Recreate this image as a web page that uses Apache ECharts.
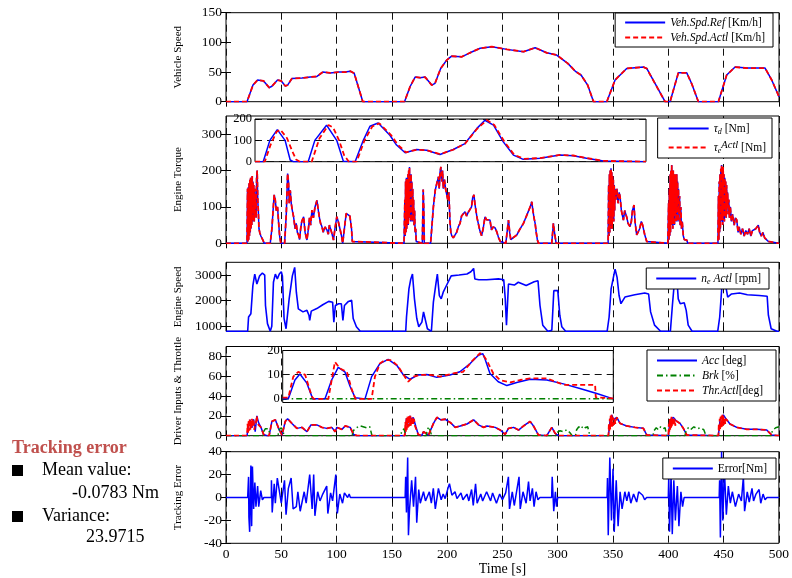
<!DOCTYPE html>
<html><head><meta charset="utf-8">
<script src="https://cdn.jsdelivr.net/npm/echarts@6/dist/echarts.min.js"></script>
<style>html,body{margin:0;padding:0;background:#fff}#c{width:792px;height:578px}</style>
</head><body><div id="c"></div>
<script>
// ---------- DATA ----------
const xTicks = [0,50,100,150,200,250,300,350,400,450,500];
const speedTicks = [0,50,100,150];
const torqueTicks = [0,100,200,300];
const rpmTicks = [1000,2000,3000];
const driverTicks = [0,20,40,60,80];
const errorTicks = [-40,-20,0,20,40];
const insetATicks = [0,100,200];
const insetBTicks = [0,10,20];

const speedRef = [[0,0],[19,0],[24.4,28],[28.6,36.6],[34,35],[39.1,23.6],[41.5,26],[46.6,36.6],[50,35],[53.6,26.4],[55.7,28],[59.6,39],[68.7,40],[76.2,41.5],[82.2,42.6],[87.6,50],[94.2,48.5],[101.8,50],[107.8,50],[112.3,51.5],[115.9,48],[123.7,0],[161.4,0],[166.5,25.6],[171,41.5],[175.5,40.5],[180,41.5],[186,28],[189,31],[194.1,56],[199.5,70],[204,76.7],[213,75.6],[220.6,82.4],[229.8,90],[240.4,92.7],[254,88.2],[269,84.3],[279.5,91],[290,82.4],[299,78.6],[309,64.6],[316.3,50.5],[321,45],[327,28],[332.3,0],[344.3,0],[351.8,36.6],[362.3,56],[377.4,58.4],[380.4,56],[397,0],[401.5,0],[409,48.6],[416.6,48.6],[421,30.6],[427.1,0],[445.2,0],[452.7,45],[460.3,58.4],[470.8,56.7],[487.4,56.7],[493.4,36.6],[500,8.4]];
const speedActl = speedRef;

const torqueDes = [[0,0],[19,0],[19.5,150],[19.8,5],[20.2,155],[20.5,10],[20.9,165],[21.2,20],[21.6,175],[21.9,30],[22.3,180],[22.6,40],[23,178],[23.3,50],[23.7,185],[24,60],[24.4,170],[24.7,80],[25.1,160],[25.5,60],[25.9,150],[26.3,100],[26.7,120],[27.2,70],[27.7,180],[28.2,200],[28.7,120],[29.2,90],[29.8,40],[30.5,30],[31.5,20],[32.5,25],[33.5,8],[34.5,0],
[40,0],[41.5,40],[43,110],[43.6,133],[44.5,120],[45.5,90],[46.6,100],[47.5,60],[48.5,20],[49.6,0],[53,0],[54.5,80],[55.7,192],[56.5,170],[57.2,110],[58.1,146],[59,110],[60,90],[61.1,73],[62.5,40],[63.5,55],[64.5,30],[65.6,23],[66.5,10],[67.5,40],[68.5,60],[70.2,73],[71.5,30],[73.2,9],[74.5,40],[75.5,70],[76.5,50],[77.7,91],[79,70],[80.5,100],[82.2,118],[83.5,90],[84.5,70],[85.5,55],[86.7,46],[88,30],[89.5,45],[91.2,37],[92.5,25],[93.5,50],[94.2,55],[95.5,30],[97.2,9],[98.5,40],[100.2,73],[101.5,60],[103.3,64],[104.5,20],[105.5,0],[107,0],[107.8,60],[108.7,82],[110.5,80],[112,75],[113.5,40],[114.2,5],[115,0],
[161,0],[161.7,120],[162,20],[162.4,170],[162.7,30],[163.1,180],[163.4,40],[163.8,175],[164.1,60],[164.5,190],[164.8,50],[165.2,200],[165.5,70],[165.9,210],[166.2,80],[166.6,180],[166.9,60],[167.3,190],[167.6,90],[168,170],[168.4,60],[168.8,150],[169.2,80],[169.6,120],[170,50],[170.5,90],[171,30],[171.5,40],[172,5],[172.5,0],[177.5,0],[178.3,148],[178.8,100],[179.3,0],[185,0],
[186,40],[187.5,100],[189.2,146],[190,150],[191,170],[192.2,183],[192.8,150],[193.5,195],[194.3,210],[195,170],[195.8,200],[196.5,150],[197.5,175],[198.5,150],[199.6,146],[200.5,120],[201.5,140],[202.5,60],[203.3,30],[204.1,21],[205.5,15],[207.1,16],[208.5,30],[210,45],[211.6,55],[213,75],[214.5,80],[216.1,87],[217.5,75],[219,85],[220.6,82],[222,100],[223,125],[224.2,133],[225,110],[226,90],[227,70],[228.1,55],[229.5,35],[231.1,21],[232.5,40],[234.2,73],[235.5,65],[237,60],[238.7,64],[240,37],[241.5,45],[243.4,42],[245,30],[246.5,15],[248,5],[249.5,0],[253,0],[254.5,40],[255.4,64],[256.5,30],[257.5,10],[259.5,15],[261,20],[263,23],[265,35],[267,45],[269,55],[271,70],[273,85],[275,100],[276.5,114],[277.5,90],[278.5,70],[279.5,55],[280.5,30],[281.5,10],[282.5,0],[294.5,0],[295.5,35],[296,55],[297,30],[298.5,0],
[345.5,0],[346,160],[346.3,20],[346.7,190],[347,30],[347.4,200],[347.7,40],[348.1,206],[348.4,50],[348.8,195],[349.1,40],[349.5,185],[349.8,70],[350.2,175],[350.6,60],[351,160],[351.4,90],[351.8,150],[352.5,120],[353.5,150],[354.5,110],[355.5,140],[356.3,128],[357.5,90],[359.3,64],[360.5,90],[361.5,80],[362.5,70],[363.5,55],[365.3,46],[366.5,60],[367.5,90],[368.9,105],[369.8,60],[371.3,23],[372.5,30],[374,40],[375.5,60],[376.7,50],[378.5,25],[380.4,5],[381,0],
[399.5,0],[400.2,110],[400.5,10],[400.9,150],[401.2,20],[401.6,190],[401.9,30],[402.3,200],[402.6,50],[403,215],[403.3,60],[403.7,195],[404,40],[404.4,200],[404.7,70],[405.1,185],[405.5,50],[405.9,190],[406.3,80],[406.7,175],[407.1,60],[407.5,190],[407.9,90],[408.3,170],[408.7,60],[409.1,150],[409.6,80],[410.1,130],[410.6,50],[411.2,100],[411.8,40],[412.5,60],[413.5,20],[414.5,10],[416.6,9],[417.5,0],
[444.8,0],[445.3,130],[445.6,10],[446,170],[446.3,30],[446.7,190],[447,40],[447.4,205],[447.7,60],[448.1,215],[448.4,70],[448.8,200],[449.1,50],[449.5,210],[449.8,80],[450.2,190],[450.6,60],[451,180],[451.4,90],[451.8,170],[452.2,70],[452.6,160],[453,100],[453.5,140],[454,80],[454.6,120],[455.2,70],[456,100],[457,60],[458,80],[459.5,50],[460.5,70],[461.8,64],[463,30],[464,45],[465.5,25],[467,40],[468.5,20],[470,35],[471.5,25],[473,40],[474.5,20],[476,35],[477.5,30],[479,40],[480.2,45],[481.3,50],[482.5,30],[484,20],[485.5,30],[487,15],[488.5,20],[490.4,5],[492,0],[500,0]];
const torqueActl = torqueDes;

const insetTorqueDes = [[0,0],[2.1,0],[3.8,100],[5.7,150],[7.7,100],[9,8],[9.8,0],[13.6,0],[15.3,100],[18.3,171],[20.9,100],[22.6,2],[25.6,0],[27.7,100],[29.4,166],[31.5,181],[34.5,124],[36.2,78],[38.4,42],[41.3,57],[43.9,54],[47.3,34],[50.7,57],[53.7,85],[56.7,155],[58.8,194],[59.3,194],[61,171],[63.5,93],[66.1,31],[68.6,11],[72.9,16],[78,31],[81.4,28],[84.8,16],[89.1,3],[100,0]];
const insetTorqueActl = [[0,0],[2.5,0],[4,80],[5.5,140],[6.5,150],[8.2,110],[9.5,50],[10.5,10],[11.5,0],[14.5,0],[16.5,110],[18.8,172],[20,160],[21.5,100],[22.8,30],[24,0],[26,0],[28,100],[30,165],[31.8,180],[34.8,125],[36.5,80],[38.6,44],[41.3,56],[44,54],[47.3,35],[50.7,56],[53.7,84],[56.7,152],[59.3,195],[61.2,172],[63.8,93],[66.3,32],[68.8,13],[72.9,17],[78,32],[81.4,29],[84.8,17],[89.1,4],[100,0]];

const engineSpeed = [[0,800],[19.6,800],[20.4,1360],[22.5,1490],[24.3,2590],[26,3040],[27.9,2650],[30.4,2970],[32.9,3080],[35,3000],[35.7,1810],[37.5,1100],[40,800],[41.4,1000],[42.9,2720],[44.6,3040],[46.4,2850],[48.2,3040],[50,3130],[51,2970],[52.5,1300],[54.3,900],[57.1,2070],[60,2970],[62.1,3300],[63.6,2330],[65.4,1680],[69.6,1560],[73.2,1620],[75,1430],[75.7,1230],[77.1,1590],[82.1,1690],[87.5,1840],[92.9,1970],[96.4,1940],[97.5,1160],[98.9,1810],[101.8,1880],[104.3,1880],[105.7,1230],[107.1,1810],[110.7,1970],[113.6,2010],[115,1300],[117.9,980],[121.4,800],[162.5,800],[163.2,1360],[165.4,2460],[167.1,2850],[168.6,3040],[170.4,2070],[172.5,1300],[174.3,980],[177.1,1160],[178.6,1560],[180.4,1560],[182.1,900],[185.7,800],[187.5,1940],[190,2720],[191.1,3040],[192.9,2200],[194.6,2070],[196.4,2330],[200,2650],[203.6,2970],[210.7,3000],[217.9,3040],[221.4,3130],[223.9,3260],[225,2850],[228.6,2820],[235.7,2820],[246.4,2850],[251.1,2820],[252.5,2070],[253.6,1040],[255.4,2650],[260.7,2610],[264.3,2720],[271.4,2590],[278.6,2740],[282.1,2780],[283.9,1810],[286.4,1040],[291,800],[294.6,840],[296.4,2390],[300,2390],[301.8,1430],[303.6,980],[307.1,800],[344.6,800],[346.4,1360],[348.2,2460],[350,2850],[351.8,3230],[353.6,2910],[355.4,2200],[357.1,1880],[360.7,2140],[369.6,2230],[378.6,2300],[382.1,2260],[383.9,1560],[387.5,1040],[392.9,800],[401.8,800],[403.6,1810],[405.4,2720],[407.1,3230],[408.9,2070],[410.7,1880],[414.3,1920],[416.1,1620],[417.9,1040],[421.4,800],[444.6,800],[446.4,1360],[448.2,2460],[450,3230],[451.8,2590],[453.6,2140],[457.1,2260],[464.3,2300],[471.4,2230],[482.1,2200],[489.3,2170],[490.4,1430],[492.9,900],[498.2,800],[500,800]];

const accPedal = [[0,0],[19,0],[20.4,10.9],[21.9,16],[23.4,8],[24.9,16.6],[26.4,4],[27.9,20],[29.5,13],[31.6,8.4],[34,1.3],[37,0],[39,0],[41.5,14.4],[44.6,16],[47.6,7.4],[50.6,0.5],[53.6,14.4],[55.7,17],[59.6,12.4],[64.1,7.4],[68.7,8.4],[73.2,4],[76.8,10.9],[82.2,10.9],[86.7,8.4],[91.2,7.4],[95.7,8.4],[98.7,4],[100.2,8.4],[104.8,6.4],[107.8,9.8],[112.3,8.4],[115.3,1.3],[118.4,0],[161.7,0],[163.2,17.5],[164.7,12.4],[166.2,20],[167.8,16],[169.3,18.5],[171.7,9.1],[173.8,1.3],[176.8,0],[178.6,4],[180.1,5.7],[183.1,0.7],[187.6,12.4],[190.7,18.5],[194.3,16],[198.2,16.6],[202.8,13.3],[207.3,8.4],[211.8,9.8],[217.9,11.8],[223.9,16],[228.4,10.9],[232.9,8.4],[235.9,9.8],[243.4,8.4],[248,5.7],[252.4,1.3],[255.4,7.4],[260,8.4],[264.5,5.7],[269,9.8],[275,14.4],[278,9.8],[282.5,0.7],[290,0],[294.6,8.4],[297.6,2.4],[300.6,0],[345.8,0],[347.3,16],[348.8,21],[350.3,16],[353.3,18.5],[356.3,12.4],[362.3,9.8],[369.8,8.4],[377.4,7.4],[380.4,0.7],[382,0],[400,0],[401.5,16],[404.5,18.5],[407.5,14.4],[410.5,12.4],[413.5,7.4],[416.6,0.7],[418,0],[445.2,0],[446.7,16],[449.7,21],[452.7,16],[455.7,11.8],[461.8,8.4],[470.8,6.4],[479.8,6.4],[488.9,5.7],[493.4,0.7],[495,0],[500,0]];
const brake = [[0,0],[33,0],[34,4],[35.5,7],[37,5],[38.5,7],[40,0],[47,0],[48,6],[50,8],[51.5,5],[52.5,0],[114,0],[115,5],[118,8],[121,10],[124,9],[127,8],[130,9],[132,0],[158,0],[159,5],[161,7],[162.5,0],[181,0],[182,6],[183.5,9],[185,7],[186,0],[298,0],[299,3],[302,5],[305,4],[308,6],[311,3],[313,0],[316,0],[317,6],[319,9],[321,7],[323,10],[325,8],[327,9],[329,0],[386,0],[387,5],[389,8],[391,6],[393,9],[395,7],[397,8],[398.5,0],[415,0],[416,5],[418,8],[420,6],[423,9],[426,7],[429,8],[432,6],[434,0],[493,0],[494,5],[497,8],[500,9]];
const throttle = [[0,0],[19,0],[19.5,12],[20,3],[20.5,16],[21,5],[21.5,17],[22,6],[22.5,15],[23,8],[23.5,17],[24,10],[24.9,16.6],[25.5,6],[26.4,4],[27.2,14],[27.9,20],[28.5,12],[29.5,14],[31.6,8.4],[34,1.3],[37,0],[39,0],[41.5,14.4],[44.6,16],[47.6,7.4],[50.6,0.5],[53.6,14.4],[55.7,17],[59.6,12.4],[64.1,7.4],[68.7,8.4],[73.2,4],[76.8,10.9],[82.2,10.9],[86.7,8.4],[91.2,7.4],[95.7,8.4],[98.7,4],[100.2,8.4],[104.8,6.4],[107.8,9.8],[112.3,8.4],[115.3,1.3],[118.4,0],[161.7,0],[162.2,14],[162.6,4],[163.1,18],[163.5,6],[164,19],[164.4,8],[164.9,20],[165.3,9],[165.8,21],[166.2,10],[166.7,20],[167.1,9],[167.6,18],[168.1,11],[168.7,19],[169.3,12],[170,17],[170.8,10],[171.7,9.1],[173.8,1.3],[176.8,0],[178.6,4],[180.1,5.7],[183.1,0.7],[187.6,12.4],[190.7,18.5],[194.3,16],[198.2,16.6],[202.8,13.3],[207.3,8.4],[211.8,9.8],[217.9,11.8],[223.9,16],[228.4,10.9],[232.9,8.4],[235.9,9.8],[243.4,8.4],[248,5.7],[252.4,1.3],[255.4,7.4],[260,8.4],[264.5,5.7],[269,9.8],[275,14.4],[278,9.8],[282.5,0.7],[290,0],[294.6,8.4],[297.6,2.4],[300.6,0],[345.8,0],[346.2,12],[346.6,4],[347,17],[347.4,6],[347.8,20],[348.2,8],[348.6,21],[349,9],[349.4,19],[349.8,10],[350.3,18],[350.8,11],[351.4,17],[352,12],[353.3,18.5],[356.3,12.4],[362.3,9.8],[369.8,8.4],[377.4,7.4],[380.4,0.7],[382,0],[400,0],[400.4,12],[400.8,4],[401.2,17],[401.6,6],[402,18],[402.4,8],[402.8,19],[403.2,9],[403.6,18],[404,10],[404.5,18.5],[405,11],[405.6,17],[406.2,10],[407,15],[407.5,14.4],[410.5,12.4],[413.5,7.4],[416.6,0.7],[418,0],[445.2,0],[445.6,12],[446,4],[446.4,17],[446.8,6],[447.2,19],[447.6,8],[448,20],[448.4,9],[448.8,21],[449.2,10],[449.7,21],[450.2,11],[450.8,18],[451.4,12],[452,17],[452.7,16],[455.7,11.8],[461.8,8.4],[470.8,6.4],[479.8,6.4],[488.9,5.7],[493.4,0.7],[495,0],[500,0]];

const insetAcc = [[0,0],[1.7,0],[3.7,7.8],[5.2,10.3],[7.3,6.5],[9.1,0],[12.8,0],[14.8,7.8],[16.8,13],[18.8,11.2],[20.4,5.1],[21.9,0.5],[24.9,0],[26.9,9.2],[29.4,14.6],[31.9,16.3],[34.5,13.9],[36.5,9.9],[38.5,8.1],[41,9.9],[43.6,10.1],[46.6,8.9],[50.6,9.9],[53.6,11.2],[56.7,14.6],[59.2,18],[60.5,18.7],[61.2,16.5],[62.7,10.5],[65.2,7.1],[67.8,5.5],[70.8,6.8],[74.8,8.1],[79.9,7.8],[84.9,6.2],[89.9,4.3],[95,2.2],[100,0]];
const insetBrk = [[0,0],[100,0]];
const insetThr = [[0,0.5],[1.7,0.5],[3.2,9.2],[4.7,11.2],[6.8,9.9],[8.8,1],[9.4,0],[13.8,0],[14.3,3.8],[15.8,15.3],[16.4,16],[17.3,12.6],[19.4,11.2],[20.9,3.8],[22,0],[26.9,0],[27.9,9.2],[29.4,14.6],[30.9,16],[32.9,16],[34.9,13.5],[36.9,9.2],[38,7.1],[39.5,9.2],[41.5,9.9],[44.6,9.9],[47.6,9.2],[51.6,10.5],[54.6,11.2],[57.2,15.5],[59.7,18.9],[60.7,18],[61.7,16],[63.7,10.5],[65.7,7.8],[68.8,6.8],[71.8,7.8],[74.8,8.5],[79.9,8.5],[84.9,5.8],[94.5,5.8],[94.7,0.6],[100,0.2]];
const insetBRefLine = 10;

const trackError = [[0,0],[19.6,0],[20.4,18],[20.7,-17],[21.4,-30],[22.5,28],[23.2,-25],[23.9,27],[25,-10],[26.1,13],[27.1,-8],[28.6,10],[29.6,-8],[31.4,6],[32.9,-2],[34.3,0],[41,0],[41.1,15],[41.8,-13],[43.6,12],[44.6,-5],[46.4,17],[48.2,18],[50,-5],[52.9,15],[54.3,-15],[56.4,8],[58.9,17],[60.7,-10],[63.6,-8],[65,5],[67.1,-12],[68.9,-13],[70.7,5],[72.5,-5],[75.7,20],[77.9,-10],[79.3,20],[80.4,-16],[82.9,5],[85,-3],[87.5,3],[91.1,10],[92.1,-14],[94.6,4],[96.4,-3],[99.3,20],[100.7,-14],[102.9,3],[105.4,-5],[107.1,4],[110,0],[111.4,3],[112.5,0],[162,0],
[162.5,18],[163.2,-13],[164.3,35],[165,-33],[166,-10],[167.9,15],[169.6,-8],[171.4,18],[172.5,-22],[174.3,7],[175.7,-5],[178.6,5],[180.4,-3],[183.9,5],[185.7,-5],[187.5,8],[189.3,-10],[192.1,8],[194.6,-2],[196.4,3],[198.2,-1],[200.7,8],[202.1,12],[204.3,2],[207.1,5],[208.9,-1],[212.5,4],[214.3,-2],[217.9,3],[219.6,-3],[222.1,7],[223.6,-7],[225.7,12],[227.1,-5],[230.4,3],[232.1,-3],[235.7,5],[239.3,-3],[241.1,4],[244.6,-5],[247.5,3],[250,-2],[252.9,4],[255.4,18],[256.4,-10],[258.9,5],[260.7,-7],[265,18],[266.1,-10],[268.6,5],[271.4,-5],[273.6,14],[275,-3],[277.1,8],[278.6,-8],[280.4,5],[282.1,-2],[283.9,0],[294.5,0],[295,18],[296.4,-12],[297.9,5],[298.9,-8],[300,0],[344.6,0],
[345,17],[345.7,-33],[347.1,35],[348.6,-20],[350,25],[351.1,-30],[352.9,15],[354.6,-25],[356.4,5],[358.2,-10],[360.7,5],[362.5,-3],[364.3,5],[366.1,-5],[368.6,3],[371.4,-4],[373.2,5],[376.8,2],[378.6,-2],[380.4,0],[400,0],[400.4,18],[401.1,-30],[402.5,20],[403.6,-32],[405,15],[406.4,-20],[408.2,10],[409.6,-25],[411.4,5],[412.9,-8],[414.3,0],[446,0],[446.4,15],[447.1,-35],[448.2,40],[449.3,-20],[450.7,25],[452.5,-15],[454.3,10],[456.1,-5],[457.9,5],[460.7,-8],[463.6,3],[466.1,-3],[467.9,18],[469,-12],[471.4,5],[473.2,-4],[475.7,8],[477.1,-3],[479.3,3],[482.1,7],[483.6,-5],[485.7,3],[487.5,-2],[489.3,0],[500,0]];

const panelNames = ['Vehicle Speed','Engine Torque','Engine Speed','Driver Inputs & Throttle','Tracking Error'];
const statsTitle = 'Tracking error';
const statsLines = ['Mean value:','-0.0783 Nm','Variance:','23.9715'];

// ---------- LAYOUT ----------
const FONT = '"Liberation Serif", "Times New Roman", serif';
const BLUE = '#0000ff', RED = '#ff0000', GREEN = '#008000';
const L = 226, R = 13;
const mainGrids = [
  {top:12.7, height:89},
  {top:116, height:127.3},
  {top:262.3, height:69},
  {top:346.5, height:89.2},
  {top:451.7, height:91.6}
];
const yRanges = [
  {min:0, max:150, ticks:speedTicks},
  {min:0, max:350, ticks:torqueTicks},
  {min:800, max:3500, ticks:rpmTicks},
  {min:0, max:90, ticks:driverTicks},
  {min:-40, max:40, ticks:errorTicks}
];
const plain = v => String(v);

const grid = mainGrids.map(g => ({left:L, right:R, top:g.top, height:g.height, show:true, borderColor:'#000', borderWidth:1, backgroundColor:'#fff', z:0}));
grid.push({left:255, width:391, top:119, height:42.7, show:true, borderColor:'#000', borderWidth:1, backgroundColor:'#fff', z:3});
grid.push({left:282.7, width:330.6, top:350.5, height:52, show:true, borderColor:'#000', borderWidth:1, backgroundColor:'#fff', z:3});

const tickStyle = {show:true, inside:true, length:5, lineStyle:{color:'#000', width:1}};
const xAxis = [], yAxis = [];
for (let i = 0; i < 5; i++) {
  const last = i === 4;
  xAxis.push({type:'value', gridIndex:i, position:'bottom', min:0, max:500, interval:50,
    axisLine:{show:false}, axisTick:tickStyle,
    axisLabel:{show:last, formatter:plain, color:'#000', fontFamily:FONT, fontSize:13.5, margin:4},
    splitLine:{show:true, lineStyle:{color:'#111', type:[7,5], width:1}},
    name: last ? 'Time [s]' : '', nameLocation:'middle', nameGap:19,
    nameTextStyle:{color:'#000', fontFamily:FONT, fontSize:14}});
}
for (let i = 0; i < 5; i++) {
  xAxis.push({type:'value', gridIndex:i, position:'top', min:0, max:500, interval:50,
    axisLine:{show:false}, axisTick:tickStyle, axisLabel:{show:false}, splitLine:{show:false}});
}
for (let i = 0; i < 5; i++) {
  const r = yRanges[i];
  yAxis.push({type:'value', gridIndex:i, position:'left', min:r.min, max:r.max,
    axisLine:{show:false}, splitLine:{show:false},
    axisTick:Object.assign({}, tickStyle, {customValues:r.ticks}),
    axisLabel:{show:true, customValues:r.ticks, formatter:plain, color:'#000', fontFamily:FONT, fontSize:13.5, margin:4},
    name:panelNames[i], nameLocation:'middle', nameRotate:90, nameGap:42,
    nameTextStyle:{color:'#000', fontFamily:FONT, fontSize:11}});
}
for (let i = 0; i < 5; i++) {
  const r = yRanges[i];
  yAxis.push({type:'value', gridIndex:i, position:'right', min:r.min, max:r.max,
    axisLine:{show:false}, splitLine:{show:false},
    axisTick:Object.assign({}, tickStyle, {customValues:r.ticks}),
    axisLabel:{show:false}});
}
// insets
xAxis.push({type:'value', gridIndex:5, min:0, max:100, show:false, z:4});
xAxis.push({type:'value', gridIndex:6, min:0, max:100, show:false, z:4});
yAxis.push({type:'value', gridIndex:5, position:'left', min:0, max:200, interval:100, z:4,
  axisLine:{show:false}, axisTick:Object.assign({}, tickStyle, {length:4}),
  axisLabel:{show:true, formatter:plain, color:'#000', fontFamily:FONT, fontSize:12.5, margin:3},
  splitLine:{show:true, lineStyle:{color:'#111', type:[7,5], width:1}}});
yAxis.push({type:'value', gridIndex:6, position:'left', min:-1.5, max:20, z:4,
  axisLine:{show:false}, axisTick:Object.assign({}, tickStyle, {length:4, customValues:insetBTicks}),
  axisLabel:{show:true, customValues:insetBTicks, formatter:plain, color:'#000', fontFamily:FONT, fontSize:12.5, margin:3},
  splitLine:{show:false}});

function ln(name, data, xi, yi, color, width, type, z) {
  return {type:'line', name, data, xAxisIndex:xi, yAxisIndex:yi, symbol:'none', showSymbol:false,
    lineStyle:{color, width, type}, itemStyle:{color}, z:z||2, animation:false, silent:true};
}
const DASH = [5,3], DASHDOT = [6,3,1.5,3];
const series = [
  ln('Veh.Spd.Ref', speedRef, 0, 0, BLUE, 1.5, 'solid'),
  ln('Veh.Spd.Actl', speedActl, 0, 0, RED, 1.8, DASH),
  ln('τd', torqueDes, 1, 1, BLUE, 1.5, 'solid'),
  ln('τeActl', torqueActl, 1, 1, RED, 1.8, DASH),
  ln('insA_d', insetTorqueDes, 10, 10, BLUE, 1.5, 'solid', 5),
  ln('insA_a', insetTorqueActl, 10, 10, RED, 1.8, DASH, 5),
  ln('neActl', engineSpeed, 2, 2, BLUE, 1.6, 'solid'),
  ln('Acc', accPedal, 3, 3, BLUE, 1.5, 'solid'),
  ln('Brk', brake, 3, 3, GREEN, 1.5, DASHDOT),
  ln('Thr.Actl', throttle, 3, 3, RED, 1.8, DASH),
  Object.assign(ln('insB_brk', insetBrk, 11, 11, GREEN, 1.5, DASHDOT, 5), {
    markLine:{silent:true, symbol:'none', label:{show:false}, lineStyle:{color:'#111', type:[7,5], width:1}, data:[{yAxis:insetBRefLine}]}}),
  ln('insB_acc', insetAcc, 11, 11, BLUE, 1.5, 'solid', 5),
  ln('insB_thr', insetThr, 11, 11, RED, 1.8, DASH, 5),
  ln('Error', trackError, 4, 4, BLUE, 1.5, 'solid')
];

const legendText = {
  'Veh.Spd.Ref':'{i|Veh.Spd.Ref} [Km/h]',
  'Veh.Spd.Actl':'{i|Veh.Spd.Actl} [Km/h]',
  'τd':'{i|τ}{sub|d} [Nm]',
  'τeActl':'{i|τ}{sub|e}{sup|Actl} [Nm]',
  'neActl':'{i|n}{sub|e} {i|Actl} [rpm]',
  'Acc':'{i|Acc} [deg]', 'Brk':'{i|Brk} [%]', 'Thr.Actl':'{i|Thr.Actl}[deg]',
  'Error':'Error[Nm]'
};
const rich = {
  i:{fontStyle:'italic', fontFamily:FONT, fontSize:11.5, color:'#000', lineHeight:15},
  sub:{fontStyle:'italic', fontFamily:FONT, fontSize:8, color:'#000', lineHeight:8, verticalAlign:'bottom'},
  sup:{fontStyle:'italic', fontFamily:FONT, fontSize:10.5, color:'#000', lineHeight:10, verticalAlign:'top'}
};
function lg(names, right, top, padding, gap) {
  return {show:true, data:names, right, top, orient:'vertical', backgroundColor:'#fff',
    borderColor:'#000', borderWidth:1, borderRadius:0, padding, itemGap:gap, itemWidth:40, itemHeight:10,
    itemTextGap:6, selectedMode:false, z:10,
    itemStyle:{opacity:0, borderWidth:0},
    formatter:(n)=>legendText[n],
    textStyle:{fontFamily:FONT, fontSize:11.5, color:'#000', lineHeight:15, rich}};
}
const legend = [
  lg(['Veh.Spd.Ref','Veh.Spd.Actl'], 19, 13, [2,8,2,9], 0),
  lg(['τd','τeActl'], 20, 118, [3,6,3,10], 4),
  lg(['neActl'], 23, 268, [3,8,3,9], 0),
  lg(['Acc','Brk','Thr.Actl'], 16, 350, [3,13,3,9], 0),
  lg(['Error'], 16, 458, [3,9,3,9], 0)
];

const tf = (bold) => (bold ? 'bold ' : '') + '18px "Liberation Serif"';
const graphic = [
  {type:'text', left:12, top:439, style:{text:statsTitle, font:tf(true), fill:'#c0504d'}},
  {type:'rect', left:12, top:465, shape:{width:11, height:11}, style:{fill:'#000'}},
  {type:'text', left:42, top:461, style:{text:statsLines[0], font:tf(), fill:'#000'}},
  {type:'text', left:72, top:484, style:{text:statsLines[1], font:tf(), fill:'#000'}},
  {type:'rect', left:12, top:511, shape:{width:11, height:11}, style:{fill:'#000'}},
  {type:'text', left:42, top:507, style:{text:statsLines[2], font:tf(), fill:'#000'}},
  {type:'text', left:86, top:528, style:{text:statsLines[3], font:tf(), fill:'#000'}}
];

const chart = echarts.init(document.getElementById('c'), null, {renderer:'canvas'});
chart.setOption({backgroundColor:'#fff', animation:false, grid, xAxis, yAxis, series, legend, graphic});
</script></body></html>
